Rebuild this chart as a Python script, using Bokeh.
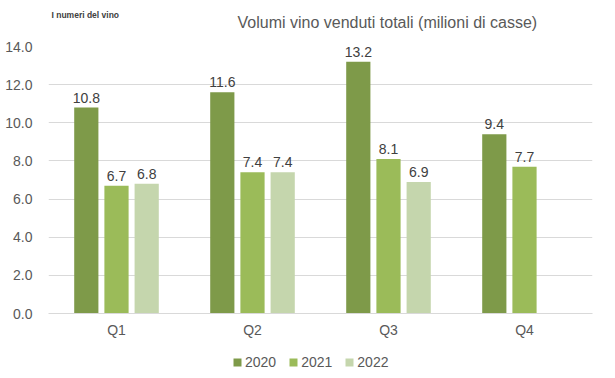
from bokeh.plotting import figure
from bokeh.layouts import column
from bokeh.models import ColumnDataSource, FactorRange, LabelSet, Legend, LegendItem, SingleIntervalTicker, NumeralTickFormatter, Range1d
from bokeh.core.properties import value
from bokeh.transform import dodge
from bokeh.embed import file_html
from bokeh.resources import INLINE

quarters = ["Q1", "Q2", "Q3", "Q4"]
v2020 = [10.8, 11.6, 13.2, 9.4]
v2021 = [6.7, 7.4, 8.1, 7.7]
q2022 = ["Q1", "Q2", "Q3"]
v2022 = [6.8, 7.4, 6.9]
series_names = ["2020", "2021", "2022"]
colors = ["#7E9A49", "#9BBB59", "#C5D6AD"]
title_text = "Volumi vino venduti totali (milioni di casse)"
logo_text = "I numeri del vino"

FONT = "Liberation Sans"
TXT = "#595959"
BL, BR = 48, 23  # left / right borders shared by all stacked figures

# ---------- header (logo text + title) ----------
hf = figure(width=615, height=36, x_range=Range1d(BL, 615 - BR), y_range=Range1d(36, 0),
            output_backend="svg", toolbar_location=None, x_axis_type=None, y_axis_type=None,
            min_border_left=BL, min_border_right=BR, min_border_top=0, min_border_bottom=0)
hf.outline_line_color = None
hf.xgrid.grid_line_color = None
hf.ygrid.grid_line_color = None
hf.text(x=[51], y=[14], text=[logo_text], text_baseline="middle", text_align="left",
        text_font=value(FONT), text_font_size=value("8.5px"), text_font_style="bold",
        text_color="#404040")
hf.text(x=[237], y=[22], text=[title_text], text_baseline="middle", text_align="left",
        text_font=value(FONT), text_font_size=value("16px"), text_color=TXT)

# ---------- main chart ----------
p = figure(x_range=FactorRange(*quarters), y_range=(0, 14), width=615, height=304,
           output_backend="svg", toolbar_location=None,
           min_border_left=BL, min_border_right=BR, min_border_top=10, min_border_bottom=27)
p.outline_line_color = None
p.background_fill_color = "white"
p.border_fill_color = "white"

srcs = [ColumnDataSource(dict(x=quarters, y=v2020, t=[f"{v:.1f}" for v in v2020])),
        ColumnDataSource(dict(x=quarters, y=v2021, t=[f"{v:.1f}" for v in v2021])),
        ColumnDataSource(dict(x=q2022, y=v2022, t=[f"{v:.1f}" for v in v2022]))]
offsets = [-0.222, 0.0, 0.222]
for src, off, col in zip(srcs, offsets, colors):
    p.vbar(x=dodge("x", off, range=p.x_range), top="y", width=0.178, source=src,
           fill_color=col, line_color=None)
    lbl = LabelSet(x=dodge("x", off, range=p.x_range), y="y", text="t", source=src,
                   text_align="center", text_baseline="bottom", y_offset=5,
                   text_font=value(FONT), text_font_size=value("14px"), text_color=value("#404040"))
    p.add_layout(lbl)

p.yaxis.ticker = SingleIntervalTicker(interval=2)
p.yaxis.formatter = NumeralTickFormatter(format="0.0")
p.yaxis.axis_line_color = None
p.yaxis.major_tick_line_color = None
p.yaxis.minor_tick_line_color = None
p.yaxis.major_label_text_font = FONT
p.yaxis.major_label_text_font_size = "14px"
p.yaxis.major_label_text_color = TXT
p.yaxis.major_label_standoff = 10

p.xaxis.axis_line_color = "#D9D9D9"
p.xaxis.major_tick_line_color = None
p.xaxis.minor_tick_line_color = None
p.xaxis.major_label_text_font = FONT
p.xaxis.major_label_text_font_size = "14px"
p.xaxis.major_label_text_color = TXT
p.xaxis.major_label_standoff = 2

p.xgrid.grid_line_color = None
p.ygrid.grid_line_color = "#D9D9D9"

# ---------- legend strip ----------
lf = figure(width=615, height=34, x_range=Range1d(0, 1), y_range=Range1d(0, 1),
            output_backend="svg", toolbar_location=None,
            x_axis_type=None, y_axis_type=None,
            min_border_left=BL, min_border_right=BR, min_border_top=0, min_border_bottom=0)
lf.outline_line_color = None
lf.xgrid.grid_line_color = None
lf.ygrid.grid_line_color = None
leg_r = [lf.vbar(x=[-10], top=[0], width=0.1, fill_color=c, line_color=None) for c in colors]
legend = Legend(items=[LegendItem(label=n, renderers=[r]) for n, r in zip(series_names, leg_r)],
                orientation="horizontal", location=(184, 4),
                label_text_font=FONT, label_text_font_size="14px", label_text_color=TXT,
                glyph_width=10, glyph_height=10, spacing=12, label_standoff=3,
                border_line_color=None, background_fill_alpha=0, padding=4, margin=0)
lf.add_layout(legend)

layout = column(hf, p, lf, spacing=0)
open("out.html", "w").write(file_html(layout, INLINE))
